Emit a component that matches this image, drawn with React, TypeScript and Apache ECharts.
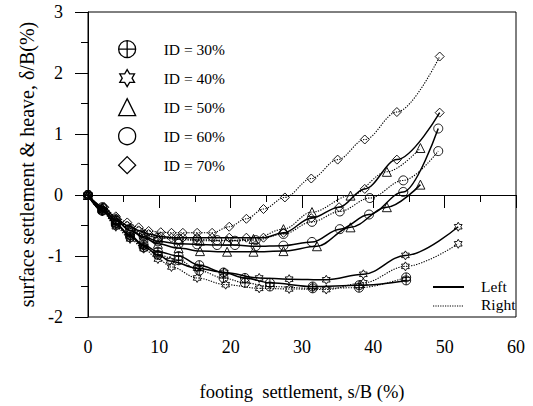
import React, { useEffect, useRef } from "react";
import * as echarts from "echarts";

// ---- data (x = footing settlement s/B %, y = surface settlement & heave δ/B %) ----
const id30Left: [number, number][] = [[0, 0], [2, -0.25], [3.9, -0.47], [5.9, -0.66], [7.8, -0.82], [9.8, -0.93], [12.7, -1.0], [15.6, -1.15], [19, -1.27], [22, -1.36], [25.5, -1.44], [31.5, -1.5], [38, -1.48], [44.6, -1.4]];
const id30Right: [number, number][] = [[0, 0], [2, -0.26], [3.9, -0.49], [5.9, -0.69], [7.8, -0.86], [9.8, -0.98], [12.7, -1.07], [15.6, -1.24], [19, -1.36], [22, -1.44], [25.5, -1.5], [31.5, -1.53], [38, -1.52], [44.6, -1.35]];
const id40Left: [number, number][] = [[0, 0], [2, -0.25], [3.9, -0.48], [5.9, -0.68], [7.8, -0.84], [9.8, -0.98], [11.5, -1.08], [15.3, -1.2], [19.1, -1.27], [24, -1.36], [28.2, -1.38], [33.4, -1.39], [38.6, -1.3], [44.5, -0.99], [51.9, -0.52]];
const id40Right: [number, number][] = [[0, 0], [2, -0.27], [3.9, -0.52], [5.9, -0.72], [7.8, -0.88], [9.8, -1.05], [11.7, -1.18], [15.3, -1.36], [19.3, -1.47], [24, -1.53], [28.2, -1.54], [33.4, -1.55], [38.6, -1.44], [44.5, -1.17], [51.9, -0.8]];
const id50Left: [number, number][] = [[0, 0], [2, -0.22], [3.9, -0.42], [5.9, -0.58], [7.8, -0.7], [9.8, -0.8], [12.7, -0.87], [15.7, -0.92], [19.5, -0.93], [23.2, -0.93], [27.4, -0.92], [32.1, -0.84], [36.8, -0.53], [41.9, -0.2], [46.6, 0.17]];
const id50Right: [number, number][] = [[0, 0], [2, -0.2], [3.9, -0.4], [5.9, -0.55], [7.8, -0.65], [9.8, -0.7], [12.7, -0.73], [15.7, -0.75], [19.5, -0.75], [23.2, -0.72], [27.4, -0.56], [31.4, -0.28], [36.8, -0.01], [41.9, 0.38], [46.6, 0.77]];
const id60Left: [number, number][] = [[0, 0], [2, -0.22], [3.9, -0.42], [5.9, -0.58], [7.8, -0.68], [9.8, -0.76], [12.7, -0.8], [15.3, -0.81], [18.1, -0.82], [20.6, -0.82], [23.5, -0.84], [27.4, -0.83], [31.4, -0.77], [35.3, -0.56], [39.4, -0.32], [44.2, 0.05], [49.1, 1.09]];
const id60Right: [number, number][] = [[0, 0], [2, -0.2], [3.9, -0.4], [5.9, -0.55], [7.8, -0.65], [9.8, -0.7], [12.7, -0.72], [15.3, -0.73], [18.1, -0.74], [20.6, -0.75], [23.5, -0.74], [27.4, -0.64], [31.4, -0.44], [35.3, -0.27], [39.5, -0.05], [44.2, 0.24], [49.1, 0.72]];
const id70Left: [number, number][] = [[0, 0], [2.25, -0.2], [3.9, -0.38], [5.5, -0.5], [7.1, -0.58], [8.5, -0.64], [10.2, -0.68], [11.7, -0.7], [13.3, -0.7], [15.3, -0.7], [17.4, -0.7], [19.8, -0.7], [22.2, -0.7], [24.6, -0.7], [27.4, -0.62], [31.3, -0.38], [35.2, -0.2], [38.8, 0.1], [43.3, 0.58], [49.3, 1.35]];
const id70Right: [number, number][] = [[0, 0], [2.25, -0.2], [3.9, -0.35], [5.5, -0.45], [7.1, -0.53], [8.5, -0.59], [10.2, -0.61], [11.7, -0.62], [13.3, -0.62], [15.3, -0.62], [17.4, -0.62], [19.8, -0.52], [22.2, -0.39], [24.6, -0.23], [27.6, -0.04], [31.3, 0.27], [35, 0.58], [38.8, 0.91], [43.3, 1.36], [49.3, 2.27]];

const legendNames = ["ID = 30%", "ID = 40%", "ID = 50%", "ID = 60%", "ID = 70%"];
const sideNames = ["Left", "Right"];
const xTicks = { min: 0, max: 60, interval: 10 };
const yTicks = { min: -2, max: 3, interval: 1 };

const STAR = "path://M10 0L12.89 5L18.66 5L15.77 10L18.66 15L12.89 15L10 20L7.11 15L1.34 15L4.23 10L1.34 5L7.11 5Z";
const CROSS_CIRCLE = "path://M0 10A10 10 0 1 1 20 10A10 10 0 1 1 0 10ZM10 0L10 20M0 10L20 10";
const SYMBOLS = [CROSS_CIRCLE, STAR, "triangle", "circle", "diamond"];

const FONT = "'Liberation Serif', 'Times New Roman', serif";

export default function App() {
  const ref = useRef<HTMLDivElement>(null);

  useEffect(() => {
    if (!ref.current) return;
    const chart = echarts.init(ref.current, undefined, { renderer: "svg" });

    const mk = (idx: number, data: [number, number][], dotted: boolean) => ({
      type: "line",
      name: legendNames[idx],
      data,
      symbol: SYMBOLS[idx],
      symbolSize: 9,
      symbolKeepAspect: true,
      showAllSymbol: true,
      smooth: 0.35,
      smoothMonotone: "x",
      lineStyle: { color: "#000", width: dotted ? 1.1 : 1.5, type: dotted ? [1.3, 1.3] : "solid" },
      itemStyle: { color: "rgba(255,255,255,0)", borderColor: "#000", borderWidth: 0.9 },
      emphasis: { disabled: true },
    });

    const series = [
      mk(0, id30Left, false), mk(0, id30Right, true),
      mk(1, id40Left, false), mk(1, id40Right, true),
      mk(2, id50Left, false), mk(2, id50Right, true),
      mk(3, id60Left, false), mk(3, id60Right, true),
      mk(4, id70Left, false), mk(4, id70Right, true),
    ];

    chart.setOption({
      animation: false,
      backgroundColor: "#fff",
      grid: { left: 88, right: 17, top: 12, bottom: 80, show: true, borderColor: "#000", borderWidth: 1 },
      legend: {
        orient: "vertical",
        left: 113,
        top: 35,
        itemWidth: 17,
        itemHeight: 17,
        itemGap: 10.7,
        selectedMode: false,
        textStyle: { fontFamily: FONT, fontSize: 15.5, color: "#000", padding: [0, 0, 0, 23] },
        data: legendNames.map((n, i) => ({
          name: n,
          icon: SYMBOLS[i],
          itemStyle: { color: "rgba(255,255,255,0)", borderColor: "#000", borderWidth: 1.3 },
        })),
      },
      xAxis: {
        type: "value",
        ...xTicks,
        name: "footing  settlement, s/B (%)",
        nameLocation: "middle",
        nameGap: 65,
        nameTextStyle: { fontFamily: FONT, fontSize: 18.5, color: "#000" },
        axisLine: { show: true, lineStyle: { color: "#000", width: 1 } },
        axisTick: { show: true, inside: false, length: 13, lineStyle: { color: "#000", width: 1 } },
        minorTick: { show: true, splitNumber: 2, length: 7, lineStyle: { color: "#000", width: 1 } },
        splitLine: { show: false },
        minorSplitLine: { show: false },
        axisLabel: { fontFamily: FONT, fontSize: 18, color: "#000", margin: 21 },
      },
      yAxis: {
        type: "value",
        ...yTicks,
        name: "surface settlement & heave, δ/B(%)",
        nameLocation: "middle",
        nameGap: 48,
        nameTextStyle: { fontFamily: FONT, fontSize: 20, color: "#000" },
        axisLine: { show: true, lineStyle: { color: "#000", width: 1 } },
        axisTick: { show: true, inside: false, length: 13, lineStyle: { color: "#000", width: 1 } },
        minorTick: { show: true, splitNumber: 2, length: 7, lineStyle: { color: "#000", width: 1 } },
        splitLine: { show: false },
        minorSplitLine: { show: false },
        axisLabel: { fontFamily: FONT, fontSize: 18, color: "#000", margin: 25 },
      },
      graphic: [
        { type: "line", shape: { x1: 433, y1: 287, x2: 464, y2: 287 }, style: { stroke: "#000", lineWidth: 2 } },
        { type: "line", shape: { x1: 433, y1: 306, x2: 464, y2: 306 }, style: { stroke: "#000", lineWidth: 1.2, lineDash: [1.2, 1.2] } },
        { type: "text", x: 481, y: 286, style: { text: sideNames[0], fontFamily: FONT, fontSize: 15.5, fill: "#000", verticalAlign: "middle" } },
        { type: "text", x: 481, y: 304, style: { text: sideNames[1], fontFamily: FONT, fontSize: 15.5, fill: "#000", verticalAlign: "middle" } },
      ],
      series,
    });

    return () => chart.dispose();
  }, []);

  return <div ref={ref} style={{ position: "fixed", left: 0, top: 0, width: 533, height: 406 }} />;
}
